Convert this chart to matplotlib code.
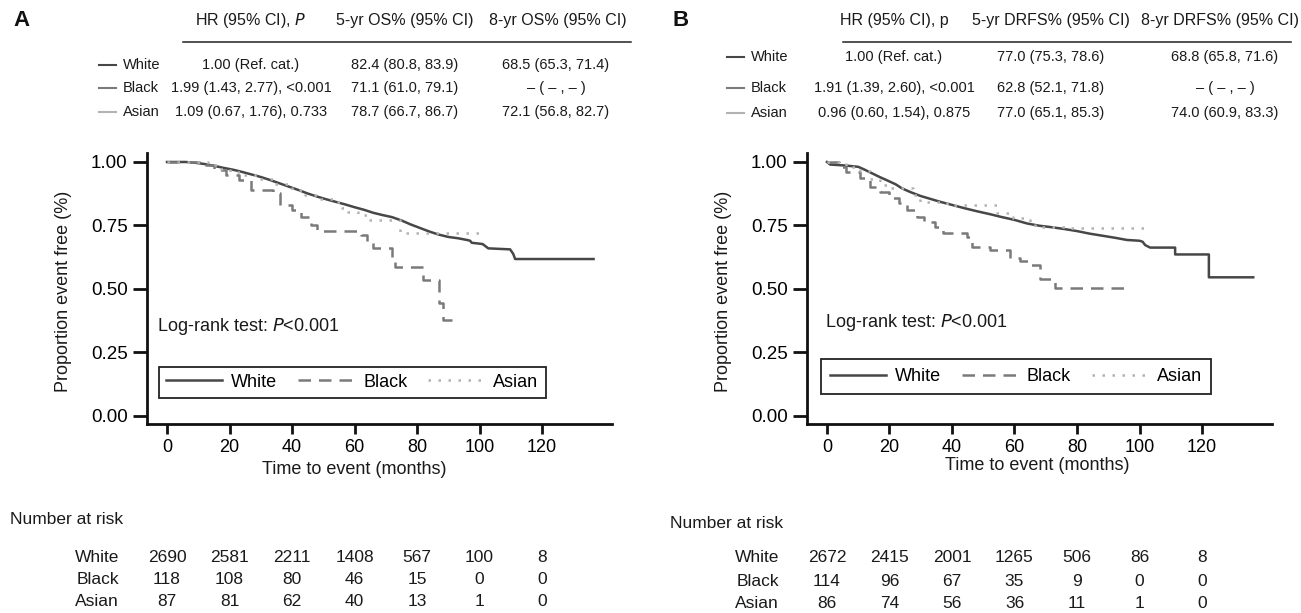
import matplotlib
matplotlib.use("Agg")
import matplotlib.pyplot as plt
from matplotlib.lines import Line2D
from matplotlib import transforms

plt.rcParams['font.family'] = ['Liberation Sans', 'DejaVu Sans']

W, H = 1301, 613

groups = ['White', 'Black', 'Asian']
colors = ['#474747', '#7a7a7a', '#b3b3b3']
styles = ['-', (0, (5, 3.2)), (0, (1, 3))]
risk_times = [0, 20, 40, 60, 80, 100, 120]

# panel A: overall survival (White read as a dense line, others as steps)
a_white_t = [0, 6, 9, 12, 15, 18, 21, 24, 27, 30, 33, 36, 39, 42, 45, 48, 51, 54, 57, 60,
             63, 66, 69, 72, 75, 78, 81, 84, 87, 90, 93, 96, 97, 97.5, 101, 102.8, 109.8,
             110.8, 111.4, 136.5]
a_white_s = [1.0, 1.0, 0.997, 0.992, 0.985, 0.977, 0.970, 0.961, 0.951, 0.941, 0.929, 0.916,
             0.903, 0.890, 0.876, 0.864, 0.853, 0.843, 0.833, 0.822, 0.812, 0.800, 0.791, 0.783,
             0.770, 0.754, 0.740, 0.726, 0.714, 0.705, 0.700, 0.693, 0.690, 0.682, 0.677, 0.660,
             0.656, 0.638, 0.618, 0.618]
a_black_t = [0, 12, 15, 19, 23, 27, 34, 36, 40, 43, 46, 48, 62, 64, 66, 72, 73, 82, 87, 88.4, 93.8]
a_black_s = [1.0, 0.987, 0.967, 0.948, 0.928, 0.890, 0.877, 0.830, 0.811, 0.785, 0.752, 0.730,
             0.713, 0.686, 0.660, 0.614, 0.585, 0.535, 0.444, 0.378, 0.378]
a_asian_t = [0, 13, 17, 20, 24, 28, 34, 40, 44, 49, 53, 56, 58, 61, 64, 74.6, 101.8]
a_asian_s = [1.0, 0.987, 0.974, 0.961, 0.948, 0.934, 0.915, 0.890, 0.870, 0.853, 0.844, 0.818,
             0.805, 0.790, 0.772, 0.719, 0.719]

# panel B: distant recurrence-free survival
b_white_t = [0, 1, 6, 10, 12, 14, 17, 19, 22, 24, 27, 30, 33, 36, 40, 44, 48, 52, 56, 60, 64,
             68, 72, 76, 80, 84, 88, 92, 96, 100, 101, 101.8, 103.4, 111.4, 111.4, 122.2, 122.2,
             136.4]
b_white_s = [1.0, 0.990, 0.986, 0.981, 0.970, 0.958, 0.940, 0.929, 0.912, 0.896, 0.880, 0.866,
             0.855, 0.844, 0.831, 0.818, 0.806, 0.795, 0.783, 0.772, 0.758, 0.749, 0.743, 0.736,
             0.728, 0.718, 0.710, 0.702, 0.693, 0.690, 0.686, 0.673, 0.663, 0.663, 0.636, 0.636,
             0.546, 0.546]
b_black_t = [0, 4, 6, 10.6, 13.8, 17, 20, 23, 25.5, 28.7, 31, 34.6, 37.2, 44.7, 46.3, 52.2,
             58.6, 61.8, 64.4, 68.2, 73, 96.4]
b_black_s = [1.0, 0.982, 0.960, 0.936, 0.903, 0.883, 0.857, 0.837, 0.811, 0.785, 0.765, 0.745,
             0.722, 0.706, 0.667, 0.654, 0.621, 0.612, 0.594, 0.538, 0.503, 0.503]
b_asian_t = [0, 6, 10.6, 13.8, 17, 20, 27.6, 29.8, 38.3, 54.3, 59.6, 64.9, 66.5, 77.7, 102.3]
b_asian_s = [1.0, 0.982, 0.966, 0.932, 0.909, 0.896, 0.870, 0.844, 0.831, 0.798, 0.778, 0.765,
             0.743, 0.739, 0.739]

a_risk = [[2690, 2581, 2211, 1408, 567, 100, 8],
          [118, 108, 80, 46, 15, 0, 0],
          [87, 81, 62, 40, 13, 1, 0]]
b_risk = [[2672, 2415, 2001, 1265, 506, 86, 8],
          [114, 96, 67, 35, 9, 0, 0],
          [86, 74, 56, 36, 11, 1, 0]]

a_head = ['HR (95% CI), $\\it{P}$', '5-yr OS% (95% CI)', '8-yr OS% (95% CI)']
a_hr = ['1.00 (Ref. cat.)', '1.99 (1.43, 2.77), <0.001', '1.09 (0.67, 1.76), 0.733']
a_5yr = ['82.4 (80.8, 83.9)', '71.1 (61.0, 79.1)', '78.7 (66.7, 86.7)']
a_8yr = ['68.5 (65.3, 71.4)', '\u2013 ( \u2013 , \u2013 )', '72.1 (56.8, 82.7)']

b_head = ['HR (95% CI), p', '5-yr DRFS% (95% CI)', '8-yr DRFS% (95% CI)']
b_hr = ['1.00 (Ref. cat.)', '1.91 (1.39, 2.60), <0.001', '0.96 (0.60, 1.54), 0.875']
b_5yr = ['77.0 (75.3, 78.6)', '62.8 (52.1, 71.8)', '77.0 (65.1, 85.3)']
b_8yr = ['68.8 (65.8, 71.6)', '\u2013 ( \u2013 , \u2013 )', '74.0 (60.9, 83.3)']


def fx(x):
    return x / W


def fy(y):
    return 1 - y / H


fig = plt.figure(figsize=(W / 100, H / 100), dpi=100)
txt = '#1a1a1a'


def panel(x0, letter, curves, risk, head, hr, y5, y8, cols, row_y, line_x, opts):
    ax = fig.add_axes([fx(x0 + 147), fy(424), (612 - 147) / W, (424 - 153) / H])
    for k, ((t, s), name, c, ls) in enumerate(zip(curves, groups, colors, styles)):
        if k == 0:
            ax.plot(t, s, color=c, ls=ls, lw=1.8, label=name)
        else:
            ax.step(t, s, where='post', color=c, ls=ls, lw=1.8, label=name)
    ax.set_xlim(-6.4, 142.4)
    ax.set_ylim(-0.0315, 1.0354)
    ax.set_xticks(risk_times)
    ax.set_yticks([0, 0.25, 0.5, 0.75, 1.0])
    ax.set_yticklabels(['0.00', '0.25', '0.50', '0.75', '1.00'])
    for sp in ['top', 'right']:
        ax.spines[sp].set_visible(False)
    for sp in ['left', 'bottom']:
        ax.spines[sp].set_linewidth(2)
        ax.spines[sp].set_color('#111111')
    ax.tick_params(axis='y', length=10, width=2, labelsize=13.5, pad=4, color='#111111')
    ax.tick_params(axis='x', length=7, width=2, labelsize=13, pad=4, color='#111111')
    ax.set_ylabel('Proportion event free (%)', fontsize=13, color=txt)
    ax.yaxis.set_label_coords(-0.161, 0.49)
    ax.set_xlabel('Time to event (months)', fontsize=13, color=txt)
    ax.xaxis.set_label_coords(opts['xlab'][0], opts['xlab'][1])
    ax.text(opts['logrank'][0], opts['logrank'][1], 'Log-rank test: $\\it{P}$<0.001',
            transform=ax.transAxes, fontsize=13, color=txt, va='center')
    leg = ax.legend(ncol=3, loc='lower left', bbox_to_anchor=opts['leg'], fontsize=13,
                    handlelength=3.1, handletextpad=0.5, columnspacing=1.15,
                    borderpad=opts['bpad'], borderaxespad=0,
                    fancybox=False, edgecolor='#222222', framealpha=1)
    leg.get_frame().set_linewidth(1.3)

    # header table
    fig.text(fx(x0 + 13), fy(21), letter, fontsize=16, fontweight='bold', va='center', color='#111')
    for cx, h in zip(cols[0], head):
        fig.text(fx(x0 + cx), fy(21), h, fontsize=11.5, ha='center', va='center', color=txt)
    fig.add_artist(Line2D([fx(x0 + 183), fx(x0 + 631)], [fy(42), fy(42)], color='#222', lw=1.1))
    for i, name in enumerate(groups):
        y = row_y[i]
        fig.add_artist(Line2D([fx(x0 + line_x), fx(x0 + line_x + 17)], [fy(y), fy(y)],
                              color=colors[i], lw=1.5))
        fig.text(fx(x0 + line_x + 24), fy(y), name, fontsize=10.5, va='center', color=txt)
        fig.text(fx(x0 + cols[1][0]), fy(y), hr[i], fontsize=10.5, ha='center', va='center', color=txt)
        fig.text(fx(x0 + cols[1][1]), fy(y), y5[i], fontsize=10.5, ha='center', va='center', color=txt)
        fig.text(fx(x0 + cols[1][2]), fy(y), y8[i], fontsize=10.5, ha='center', va='center', color=txt)

    # number at risk
    nar_y, risk_y = opts['risk']
    fig.text(fx(x0 + 10), fy(nar_y), 'Number at risk', fontsize=12.5, va='center', color=txt)
    tr = transforms.blended_transform_factory(ax.transData, fig.transFigure)
    for i, name in enumerate(groups):
        y = fy(risk_y[i])
        fig.text(fx(x0 + 119), y, name, fontsize=12.5, ha='right', va='center', color=txt)
        for t, n in zip(risk_times, risk[i]):
            ax.text(t, y, str(n), transform=tr, fontsize=12.5, ha='center', va='center',
                    color=txt, clip_on=False)
    return ax


panel(0, 'A',
      [(a_white_t, a_white_s), (a_black_t, a_black_s), (a_asian_t, a_asian_s)],
      a_risk, a_head, a_hr, a_5yr, a_8yr,
      ([251, 405, 558], [251, 405, 556]), [65, 88, 112], 99,
      {'xlab': (0.445, -0.137), 'logrank': (0.0215, 0.358), 'leg': (0.026, 0.096),
       'bpad': 0.4, 'risk': (520, [557, 579, 601])})
panel(660, 'B',
      [(b_white_t, b_white_s), (b_black_t, b_black_s), (b_asian_t, b_asian_s)],
      b_risk, b_head, b_hr, b_5yr, b_8yr,
      ([234, 391, 560], [234, 391, 565]), [57, 88, 113], 67,
      {'xlab': (0.496, -0.122), 'logrank': (0.039, 0.373), 'leg': (0.030, 0.111),
       'bpad': 0.5, 'risk': (523, [558, 581, 604])})

fig.savefig('out.png', dpi=100)
